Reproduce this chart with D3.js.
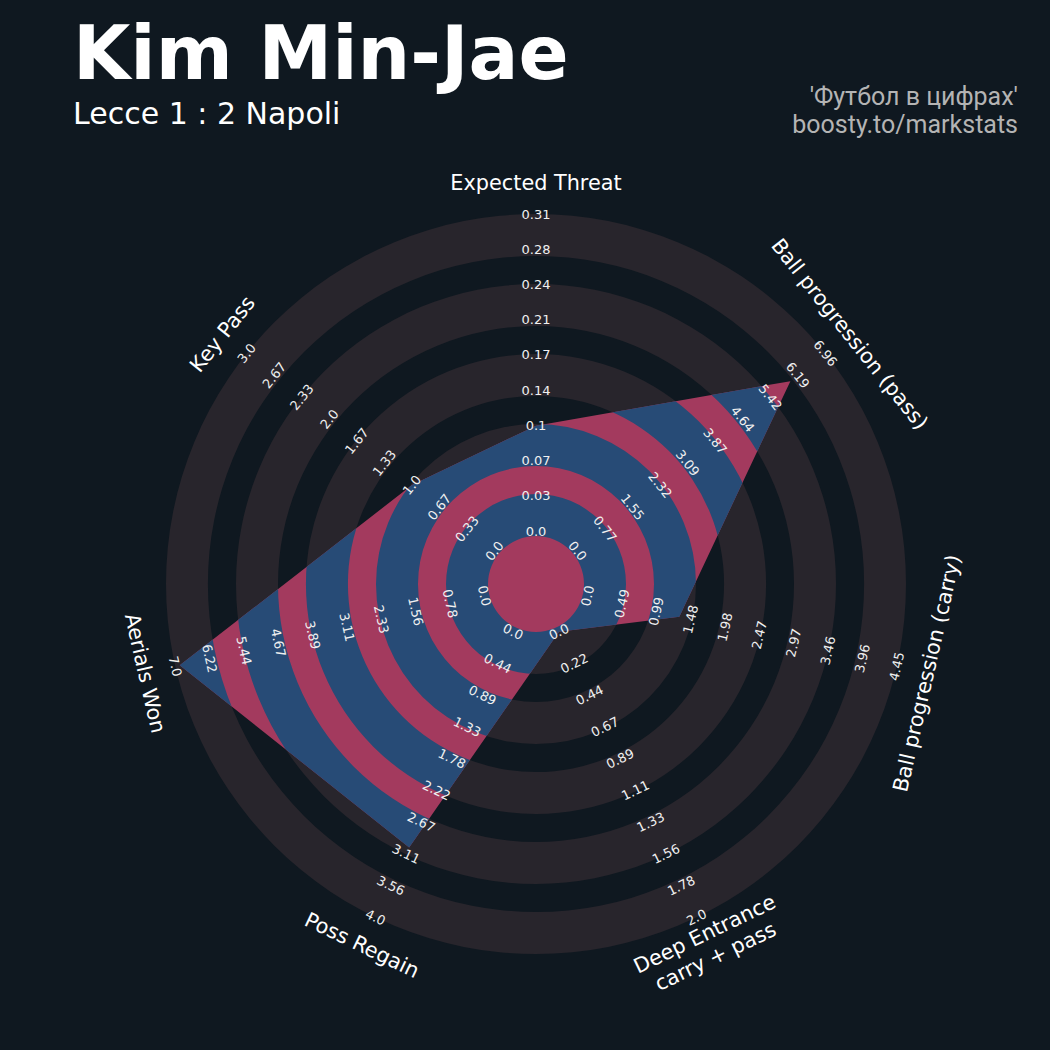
<!DOCTYPE html>
<html>
<head>
<meta charset="utf-8">
<script src="https://cdn.jsdelivr.net/npm/d3@7"></script>
<style>
  html, body { margin: 0; padding: 0; background: #0f1820; }
  svg { display: block; }
</style>
</head>
<body>
<svg width="1050" height="1050"></svg>
<script>
// radar parameters, clockwise from the top
const params = ["Expected Threat", "Ball progression (pass)", "Ball progression (carry)",
                "Deep Entrance\ncarry + pass", "Poss Regain", "Aerials Won", "Key Pass"];
const lows = [0, 0, 0, 0, 0, 0, 0];
const highs = [0.31, 6.96, 4.45, 2.0, 4.0, 7.0, 3.0];
const values = [0.103, 5.98, 1.32, 0.0, 3.02, 6.9, 1.0];

// range labels along each axis
const rangeLabels = [
  ["0.0", "0.03", "0.07", "0.1", "0.14", "0.17", "0.21", "0.24", "0.28", "0.31"],
  ["0.0", "0.77", "1.55", "2.32", "3.09", "3.87", "4.64", "5.42", "6.19", "6.96"],
  ["0.0", "0.49", "0.99", "1.48", "1.98", "2.47", "2.97", "3.46", "3.96", "4.45"],
  ["0.0", "0.22", "0.44", "0.67", "0.89", "1.11", "1.33", "1.56", "1.78", "2.0"],
  ["0.0", "0.44", "0.89", "1.33", "1.78", "2.22", "2.67", "3.11", "3.56", "4.0"],
  ["0.0", "0.78", "1.56", "2.33", "3.11", "3.89", "4.67", "5.44", "6.22", "7.0"],
  ["0.0", "0.33", "0.67", "1.0", "1.33", "1.67", "2.0", "2.33", "2.67", "3.0"]
];

const title = "Kim Min-Jae";
const subtitle = "Lecce 1 : 2 Napoli";
const credits = ["'Футбол в цифрах'", "boosty.to/markstats"];

// layout
const w = 1050, h = 1050;
const cx = 536, cy = 584;
const innerR = 53, outerR = 370, paramR = 401;

const svg = d3.select("svg");
svg.append("rect").attr("width", w).attr("height", h).attr("fill", "#0f1820");

// angle of each axis, clockwise from 12 o'clock
const angle = d3.scaleLinear().domain([0, params.length]).range([0, 2 * Math.PI]);
const labelR = d3.scaleLinear().domain([0, 9]).range([innerR, outerR]);
const scales = params.map((p, i) =>
  d3.scaleLinear().domain([lows[i], highs[i]]).range([innerR, outerR]));

const g = svg.append("g").attr("transform", "translate(" + cx + "," + cy + ")");

// rings
const ringRadii = d3.range(5).map(k => [48 + 70 * k, 90 + 70 * k]);
const arc = d3.arc().startAngle(0).endAngle(2 * Math.PI);

g.append("g").selectAll("path").data(ringRadii).join("path")
    .attr("d", d => arc({innerRadius: d[0], outerRadius: d[1]}))
    .attr("fill", "#28252c");

// radar polygon
const radar = d3.lineRadial()
    .angle((d, i) => angle(i))
    .radius((d, i) => scales[i](d))
    .curve(d3.curveLinearClosed);

g.append("clipPath").attr("id", "radar-clip")
  .append("path").attr("d", radar(values));

g.append("path")
    .attr("d", radar(values))
    .attr("fill", "#a33a5e");

g.append("g").attr("clip-path", "url(#radar-clip)")
  .selectAll("path").data(ringRadii).join("path")
    .attr("d", d => arc({innerRadius: d[0], outerRadius: d[1]}))
    .attr("fill", "#274b76");

// rotation so text stays readable
function rot(a) {
  let deg = a * 180 / Math.PI;
  if (deg > 90 && deg < 270) deg -= 180;
  else if (deg >= 270) deg -= 360;
  return deg;
}

// range labels
params.forEach((p, i) => {
  const a = angle(i);
  g.append("g").selectAll("text").data(rangeLabels[i]).join("text")
      .attr("transform", (d, k) => {
        const r = labelR(k);
        return "translate(" + (r * Math.sin(a)) + "," + (-r * Math.cos(a)) + ") rotate(" + rot(a) + ")";
      })
      .attr("text-anchor", "middle")
      .attr("dominant-baseline", "central")
      .style("font-family", "DejaVu Sans")
      .style("font-size", "13px")
      .attr("fill", "#f0f0f0")
      .text(d => d);
});

// parameter labels
params.forEach((p, i) => {
  const a = angle(i);
  const lines = p.split("\n");
  const t = g.append("text")
      .attr("transform", "translate(" + (paramR * Math.sin(a)) + "," + (-paramR * Math.cos(a)) + ") rotate(" + rot(a) + ")")
      .attr("text-anchor", "middle")
      .attr("dominant-baseline", "central")
      .style("font-family", "DejaVu Sans")
      .style("font-size", "20.8px")
      .attr("fill", "#ffffff");
  lines.forEach((l, j) => {
    t.append("tspan")
        .attr("x", 0)
        .attr("dy", j === 0 ? (-(lines.length - 1) * 0.6) + "em" : "1.2em")
        .text(l);
  });
});

// titles
svg.append("text")
    .attr("x", 73).attr("y", 79)
    .style("font-family", "DejaVu Sans")
    .style("font-weight", "bold")
    .style("font-size", "74px")
    .attr("fill", "#ffffff")
    .text(title);

svg.append("text")
    .attr("x", 73).attr("y", 124)
    .style("font-family", "DejaVu Sans")
    .style("font-size", "30px")
    .attr("fill", "#ffffff")
    .text(subtitle);

svg.append("g").selectAll("text").data(credits).join("text")
    .attr("x", 1018)
    .attr("y", (d, i) => 105 + i * 28)
    .attr("text-anchor", "end")
    .style("font-family", "Roboto")
    .style("font-size", "25px")
    .attr("fill", "#b4b4b4")
    .text(d => d);
</script>
</body>
</html>
